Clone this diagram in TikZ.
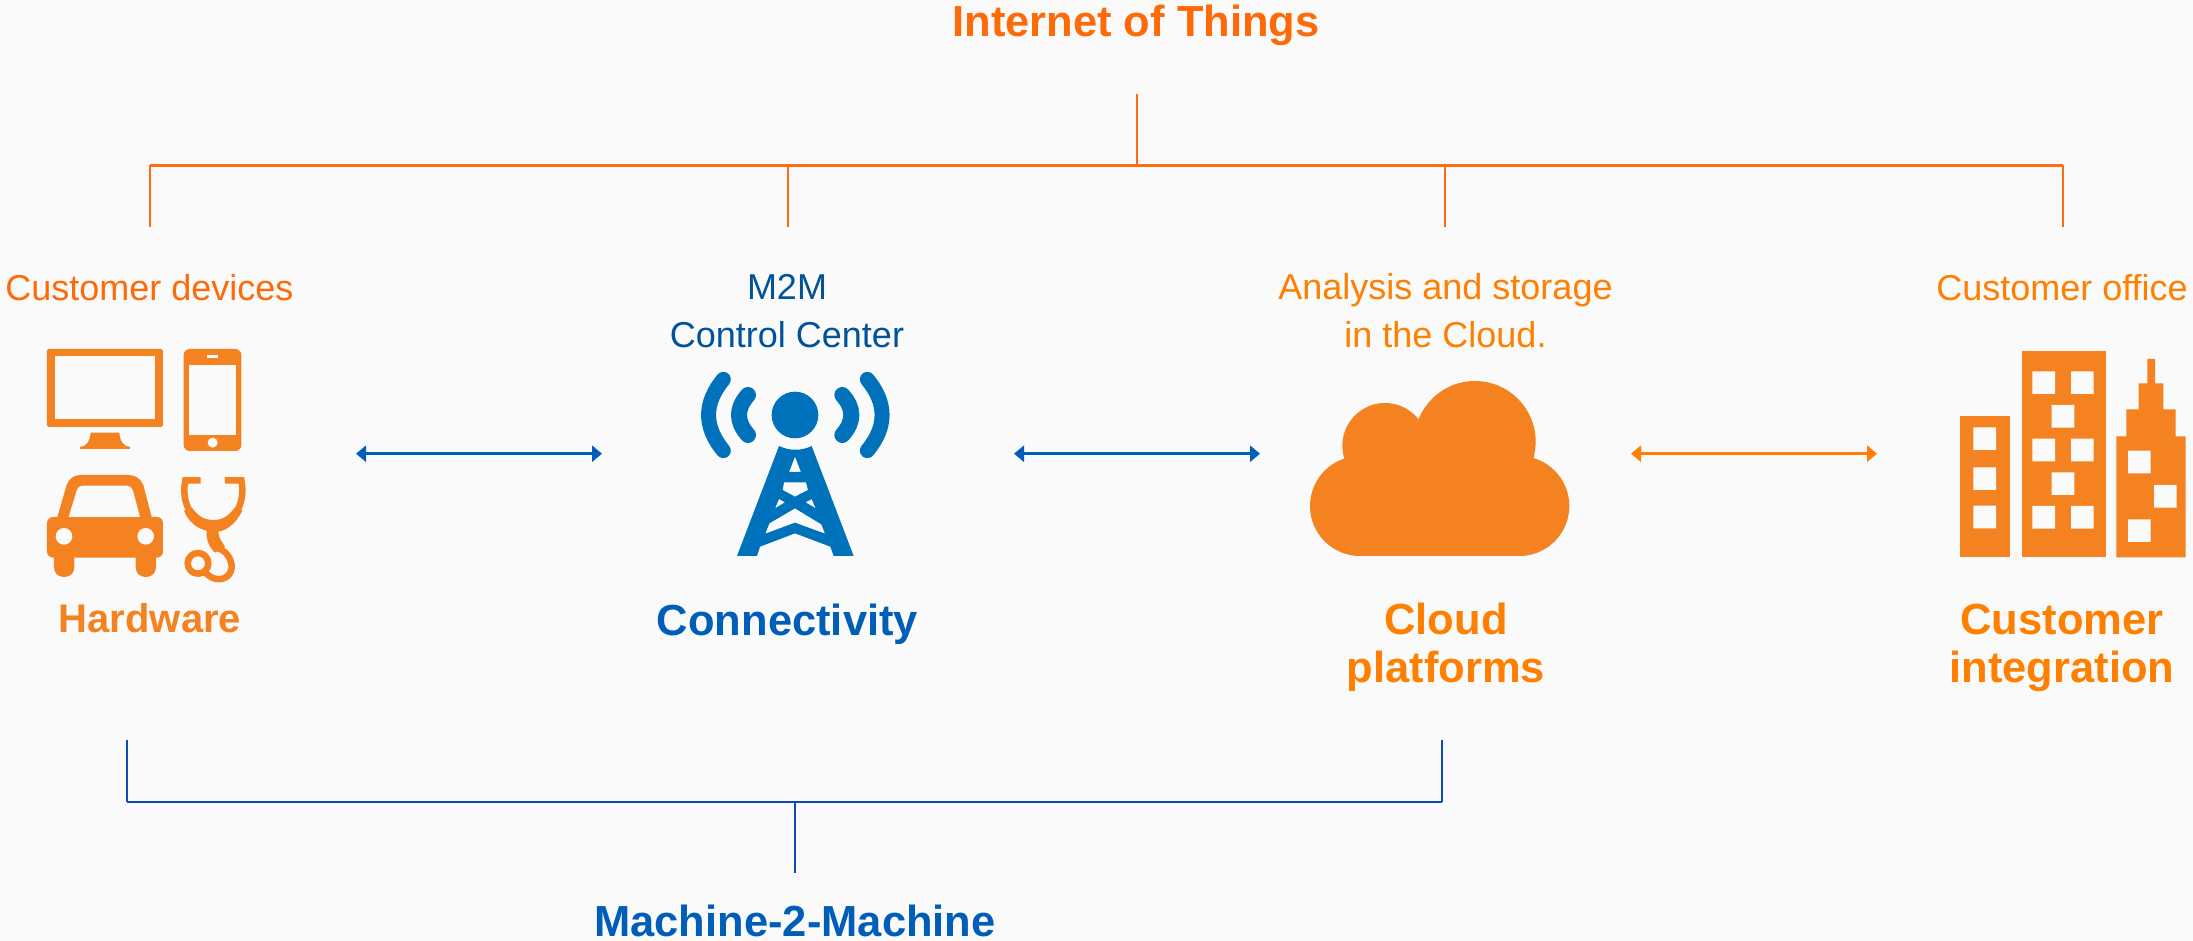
\documentclass[tikz,border=0pt]{standalone}
\usepackage{fontspec}
\setmainfont{Liberation Sans}
\usetikzlibrary{arrows.meta,positioning}
\definecolor{pagebg}{HTML}{FAFAFA}
\definecolor{iconorange}{HTML}{F58220}
\definecolor{lineorange}{HTML}{FF6A13}
\definecolor{textorange}{HTML}{FF6A08}
\definecolor{brightorange}{HTML}{FF7F00}
\definecolor{iconblue}{HTML}{0072BC}
\definecolor{lineblue}{HTML}{0B4DB0}
\definecolor{textblue}{HTML}{005EB8}
\definecolor{noteblue}{HTML}{00529B}
\tikzset{
  heading/.style={ % big bold labels
    font=\fontsize{43.5}{47.5}\selectfont\bfseries, align=center, anchor=base, inner sep=0pt
  },
  note/.style={  % small captions over the icons
    font=\fontsize{36}{48}\selectfont, align=center, anchor=base, inner sep=0pt
  },
  busline/.style={lineorange, line width=2.8pt},
  stemline/.style={lineorange, line width=2pt},
  m2mline/.style={lineblue, line width=2.6pt},
  m2mstem/.style={lineblue, line width=2pt},
  link/.style={
    line width=2.6pt, {Triangle[length=10pt,width=16pt]}-{Triangle[length=10pt,width=16pt]}
  },
  icon/.style={fill=iconorange, draw=none},
  hole/.style={fill=pagebg, draw=none},
  tube/.style={draw=iconorange, fill=none, line width=6.5pt}
}
\begin{document}
\begin{tikzpicture}[x=1pt,y=-1pt]

    \fill[pagebg] (0,0) rectangle (2193,941);
    \useasboundingbox (0,0) rectangle (2193,941);

    % labels
    \node[heading,textorange] (iot) at (1136,37) {Internet of Things};
    \node[heading,textblue] (m2m) at (795,936) {Machine-2-Machine};
    \node[note,textorange] (devices) at (149.5,300.5) {Customer devices};
    \node[note,noteblue] (control) at (787,348) {M2M\\Control Center};
    \node[note,brightorange] (analysis) at (1445.5,347.7) {Analysis and storage\\in the Cloud.};
    \node[note,brightorange] (office) at (2062,300.5) {Customer office};
    \node[heading,iconorange,font=\fontsize{40}{48}\selectfont\bfseries] (hardware) at (150,632) {Hardware};
    \node[heading,textblue] (connectivity) at (787.5,635) {Connectivity};
    \node[heading,brightorange] (cloud) at (1446,682) {Cloud\\platforms};
    \node[heading,brightorange] (integration) at (2062,682) {Customer\\integration};

    % orange tree
    \coordinate (iot_top) at (1137,94);
    \coordinate (iot_bus) at (1137,165.5);
    \coordinate (bus_hw) at (150,165.5);
    \coordinate (bus_conn) at (788,165.5);
    \coordinate (bus_cloud) at (1445,165.5);
    \coordinate (bus_cust) at (2063,165.5);
    \coordinate (stem_hw) at (150,227);
    \coordinate (stem_conn) at (788,227);
    \coordinate (stem_cloud) at (1445,227);
    \coordinate (stem_cust) at (2063,227);
    \draw[busline] (bus_hw) -- (bus_cust);
    \draw[stemline] (iot_top) -- (iot_bus);
    \draw[stemline] (bus_hw) -- (stem_hw);
    \draw[stemline] (bus_conn) -- (stem_conn);
    \draw[stemline] (bus_cloud) -- (stem_cloud);
    \draw[stemline] (bus_cust) -- (stem_cust);

    % blue bracket
    \coordinate (m2m_left) at (126.5,740);
    \coordinate (m2m_lcorner) at (126.5,802);
    \coordinate (m2m_rcorner) at (1442,802);
    \coordinate (m2m_right) at (1442,740);
    \coordinate (m2m_mid) at (795,802);
    \coordinate (m2m_foot) at (795,873);
    \draw[m2mline] (m2m_lcorner) -- (m2m_rcorner);
    \draw[m2mstem] (m2m_left) -- (m2m_lcorner);
    \draw[m2mstem] (m2m_right) -- (m2m_rcorner);
    \draw[m2mstem] (m2m_mid) -- (m2m_foot);

    % arrows
    \coordinate (hw_east) at (356,453.7);
    \coordinate (conn_west) at (602,453.7);
    \coordinate (conn_east) at (1014,453.7);
    \coordinate (cloud_west) at (1260,453.7);
    \coordinate (cloud_east) at (1631,453.7);
    \coordinate (cust_west) at (1877,453.7);
    \draw[link,textblue] (hw_east) -- (conn_west);
    \draw[link,textblue] (conn_east) -- (cloud_west);
    \draw[link,brightorange] (cloud_east) -- (cust_west);

    % hardware icons
    \begin{scope}[shift={(0,320)},scale=1/3]
      \fill[icon,rounded corners=1.5pt] (141,87) rectangle (489,321);
      \fill[hole] (165,109) rectangle (465,297);
      \fill[icon] (272,338) -- (358,338) .. controls (360,365) and (372,380) .. (390,381)
        -- (390,387) -- (240,387) -- (240,381) .. controls (258,380) and (270,365) .. (272,338) -- cycle;
      \fill[icon,rounded corners=6pt] (551,87) rectangle (724,393);
      \fill[hole] (567,135) rectangle (709,345);
      \fill[hole] (622,104) rectangle (653,114);
      \fill[hole] (638,368) circle [radius=15];
      % car
      \fill[icon,rounded corners=6pt] (141,713) -- (141,591) -- (489,591) -- (489,713) -- cycle;
      \fill[icon] (162,700) -- (162,741) .. controls (162,760) and (175,771) .. (192,771)
        .. controls (210,771) and (223,760) .. (223,741) -- (223,700) -- cycle;
      \fill[icon] (407,700) -- (407,741) .. controls (407,760) and (420,771) .. (437,771)
        .. controls (455,771) and (468,760) .. (468,741) -- (468,700) -- cycle;
      \fill[icon] (171,595) -- (200,495) .. controls (208,475) and (222,465) .. (242,465) -- (385,465)
        .. controls (405,465) and (422,475) .. (430,495) -- (456,595) -- cycle;
      \fill[hole] (206,591) -- (230,512) .. controls (233,502) and (240,497) .. (250,497) -- (380,497)
        .. controls (390,497) and (396,503) .. (399,512) -- (420,591) -- cycle;
      \fill[hole] (192,649) circle [radius=25];
      \fill[hole] (437,649) circle [radius=25];
      % stethoscope
      \draw[tube] (602,481) -- (556,481) .. controls (550,510) and (552,545) .. (570,575);
      \draw[tube] (675,481) -- (724,481) .. controls (730,510) and (728,545) .. (710,575);
      \fill[icon] (552,572) -- (575,562) .. controls (595,590) and (615,600) .. (640,600)
        .. controls (665,600) and (685,590) .. (705,562) -- (727,572)
        .. controls (705,615) and (680,630) .. (655,635) .. controls (655,650) and (665,665) .. (675,680)
        -- (645,698) .. controls (625,680) and (618,655) .. (620,632)
        .. controls (590,625) and (565,605) .. (552,572) -- cycle;
      \draw[tube,line cap=round] (655,685) .. controls (685,695) and (702,730) .. (692,755)
        .. controls (680,785) and (635,785) .. (615,755);
      \draw[tube] (594,730) circle [radius=31];
    \end{scope}

    % tower
    \begin{scope}[shift={(660,340)},scale=1/3]
      \fill[iconblue] (405,225) circle [radius=70];
      \draw[iconblue,line width=16pt,line cap=round] (264,165) .. controls (228,205) and (228,245) .. (264,285);
      \draw[iconblue,line width=16pt,line cap=round] (547,165) .. controls (583,205) and (583,245) .. (547,285);
      \draw[iconblue,line width=15pt,line cap=round] (190,118) .. controls (131,190) and (131,260) .. (190,332);
      \draw[iconblue,line width=15pt,line cap=round] (622,118) .. controls (681,190) and (681,260) .. (622,332);
      \fill[iconblue,even odd rule] (357,318) .. controls (388,333) and (424,333) .. (455,318)
        -- (581,648) -- (521,648) -- (511,620) -- (405,580) -- (300,620) -- (291,648) -- (231,648) -- cycle
        (405,350) -- (423,396) -- (387,396) -- cycle
        (372,427) -- (438,427) -- (444,450) -- (405,470) -- (368,450) -- cycle
        (357,477) -- (375,487) -- (345,505) -- cycle
        (455,477) -- (437,487) -- (467,505) -- cycle
        (405,505) -- (484,553) -- (495,581) -- (405,548) -- (316,581) -- (328,550) -- cycle;
    \end{scope}

    % cloud
    \begin{scope}[shift={(1280,360)},scale=1/3]
      \fill[icon] (240,438) circle [radius=150];
      \fill[icon] (718,438) circle [radius=150];
      \fill[icon] (315,257) circle [radius=128];
      \fill[icon] (585,245) circle [radius=182];
      \fill[icon] (240,300) rectangle (718,588);
    \end{scope}

    % buildings
    \begin{scope}[shift={(1920,330)},scale=1/3]
      \fill[icon] (120,259) rectangle (270,682);
      \fill[icon] (305,64) rectangle (558,682);
      \fill[icon] (589,682) -- (589,319) -- (619,319) -- (619,238) -- (656,238) -- (656,160) -- (682,160)
        -- (682,87) -- (705,87) -- (705,160) -- (730,160) -- (730,238) -- (767,238) -- (767,319)
        -- (797,319) -- (797,682) -- cycle;
      \fill[hole] (160,292) rectangle (228,360) (160,412) rectangle (228,480) (160,527) rectangle (228,595);
      \fill[hole] (337,124) rectangle (405,192) (453,124) rectangle (521,192) (395,225) rectangle (463,293);
      \fill[hole] (337,326) rectangle (405,394) (453,326) rectangle (521,394) (395,427) rectangle (463,495);
      \fill[hole] (337,528) rectangle (405,596) (453,528) rectangle (521,596);
      \fill[hole] (624,362) rectangle (692,430) (702,465) rectangle (770,533) (624,568) rectangle (692,636);
    \end{scope}
  \end{tikzpicture}
\end{document}
